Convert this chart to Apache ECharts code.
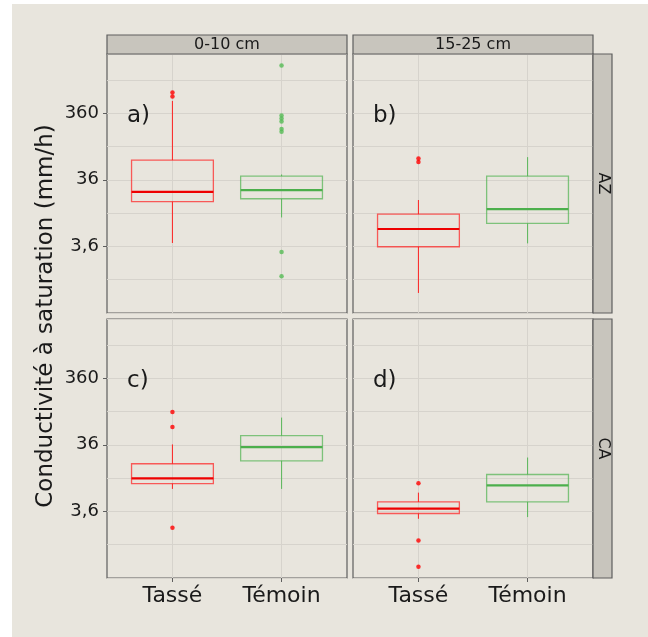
<!DOCTYPE html>
<html>
<head>
<meta charset="utf-8">
<script src="https://cdn.jsdelivr.net/npm/echarts@6/dist/echarts.min.js"></script>
<style>
html,body{margin:0;padding:0;background:#ffffff;}
#bg{position:absolute;left:12px;top:4px;width:636px;height:633px;background:#e8e5dd;}
#c{position:absolute;left:0;top:0;width:648px;height:637px;}
</style>
</head>
<body>
<div id="bg"></div>
<div id="c"></div>
<script>
// ---------- data ----------
const categories = ['Tassé', 'Témoin'];
const depths = ['0-10 cm', '15-25 cm'];
const sites = ['AZ', 'CA'];
const panelTags = ['a)', 'b)', 'c)', 'd)'];
const tickValues = [3.6, 36, 360];
const tickLabels = ['3,6', '36', '360'];
const yRange = [0.36, 2790];

// box statistics [lower whisker, Q1, median, Q3, upper whisker] (mm/h)
const az010Tasse  = [4.05, 16.9, 23.8, 71.3, 551];
const az010Temoin = [9.8, 18.7, 25.2, 41.0, 43.3];
const az1525Tasse  = [0.72, 3.56, 6.57, 11.0, 17.9];
const az1525Temoin = [4.0, 7.97, 13.1, 41.0, 78.9];
const ca010Tasse  = [7.84, 9.43, 11.3, 18.7, 36.5];
const ca010Temoin = [7.84, 20.7, 33.2, 49.4, 92.3];
const ca1525Tasse  = [2.79, 3.35, 3.95, 4.99, 6.89];
const ca1525Temoin = [2.96, 4.99, 8.88, 12.9, 23.2];

// outliers (mm/h)
const az010TasseOut  = [735, 640];
const az010TemoinOut = [1868, 334, 301, 271, 209, 189, 2.97, 1.28];
const az1525TasseOut  = [75.2, 66.4];
const az1525TemoinOut = [];
const ca010TasseOut  = [112, 66.6, 2.04];
const ca010TemoinOut = [];
const ca1525TasseOut  = [9.52, 1.32, 0.533];
const ca1525TemoinOut = [];

// ---------- helpers ----------
const FONT = "'DejaVu Sans', sans-serif";
const base = tickValues[0];
const tv = v => Math.log10(v / base);   // log scale in decades relative to first tick
const panels = [
  {box: [az010Tasse, az010Temoin],   out: [az010TasseOut, az010TemoinOut]},
  {box: [az1525Tasse, az1525Temoin], out: [az1525TasseOut, az1525TemoinOut]},
  {box: [ca010Tasse, ca010Temoin],   out: [ca010TasseOut, ca010TemoinOut]},
  {box: [ca1525Tasse, ca1525Temoin], out: [ca1525TasseOut, ca1525TemoinOut]}
];
const boxColors = ['rgba(255,30,30,0.7)', 'rgba(80,180,80,0.7)'];
const medColors = ['#ee0000', '#4caf4c'];
const whiskColors = ['rgba(255,20,20,0.85)', 'rgba(80,180,80,0.85)'];
const pointColors = ['#ff0000', '#55bb55'];

const gLeft = [107, 353], gTop = [54, 319], gW = 240, gH = 259;
const gridColor = '#d6d3cc', borderColor = '#5e5e5e', textColor = '#1a1a1a';

const grids = [], xAxes = [], yAxes = [], series = [];
const yMin = tv(yRange[0]), yMax = tv(yRange[1]);
const majorT = tickValues.map(tv);

for (let p = 0; p < 4; p++) {
  const row = Math.floor(p / 2), col = p % 2;
  grids.push({
    left: gLeft[col], top: gTop[row], width: gW, height: gH,
    containLabel: false, outerBoundsMode: 'none',
    show: true, backgroundColor: 'transparent',
    borderColor: borderColor, borderWidth: 1.2
  });
  const bottom = row === 1;
  xAxes.push({
    type: 'value', gridIndex: p, min: 0.4, max: 2.6, position: 'bottom',
    axisLine: {show: false, onZero: false},
    axisTick: {show: bottom, customValues: [1, 2], length: 4, lineStyle: {color: borderColor}},
    axisLabel: {show: bottom, customValues: [1, 2], margin: 7,
      formatter: v => categories[Math.round(v) - 1] || '',
      fontSize: 22, fontFamily: FONT, color: textColor},
    splitLine: {show: true, lineStyle: {color: gridColor, width: 1}}
  });
  yAxes.push({
    type: 'value', gridIndex: p, min: yMin, max: yMax, interval: 0.5,
    axisLine: {show: false, onZero: false}, axisTick: {show: false}, axisLabel: {show: false},
    splitLine: {show: true, lineStyle: {color: gridColor, width: 1}}
  });
}
// tick / label axes for the left column
[0, 2].forEach(p => {
  yAxes.push({
    type: 'value', gridIndex: p, position: 'left', min: yMin, max: yMax,
    axisLine: {show: false, onZero: false},
    axisTick: {show: true, customValues: majorT, length: 4, lineStyle: {color: borderColor}},
    axisLabel: {show: true, customValues: majorT, margin: 8,
      formatter: v => {
        for (let i = 0; i < majorT.length; i++) if (Math.abs(majorT[i] - v) < 1e-6) return tickLabels[i];
        return '';
      },
      fontSize: 18, fontFamily: FONT, color: textColor},
    splitLine: {show: false}
  });
});

function renderBox(params, api) {
  const x = api.value(0);
  const ci = api.value(6);
  const c = i => api.coord([x, api.value(i)]);
  const pMin = c(1), pQ1 = c(2), pMed = c(3), pQ3 = c(4), pMax = c(5);
  const w = api.size([0.75, 0])[0];
  const cx = pMed[0], left = cx - w / 2;
  return {
    type: 'group',
    children: [
      {type: 'line', shape: {x1: cx, y1: pQ3[1], x2: cx, y2: pMax[1]},
        style: {stroke: whiskColors[ci], lineWidth: 1.1}},
      {type: 'line', shape: {x1: cx, y1: pQ1[1], x2: cx, y2: pMin[1]},
        style: {stroke: whiskColors[ci], lineWidth: 1.1}},
      {type: 'rect', shape: {x: left, y: pQ3[1], width: w, height: pQ1[1] - pQ3[1]},
        style: {fill: 'none', stroke: boxColors[ci], lineWidth: 1.3}},
      {type: 'line', shape: {x1: left, y1: pMed[1], x2: left + w, y2: pMed[1]},
        style: {stroke: medColors[ci], lineWidth: 2.2}}
    ]
  };
}

panels.forEach((pn, p) => {
  series.push({
    type: 'custom', xAxisIndex: p, yAxisIndex: p,
    renderItem: renderBox, silent: true,
    encode: {x: 0, y: [1, 2, 3, 4, 5]},
    data: pn.box.map((b, k) => [k + 1].concat(b.map(tv)).concat([k]))
  });
  pn.out.forEach((arr, k) => {
    series.push({
      type: 'scatter', xAxisIndex: p, yAxisIndex: p, silent: true,
      symbol: 'circle', symbolSize: 4.5, z: 5,
      itemStyle: {color: pointColors[k]},
      data: arr.map(v => [k + 1, tv(v)])
    });
  });
});

// strips, panel tags, axis title
const graphics = [];
depths.forEach((d, col) => {
  graphics.push({type: 'rect', shape: {x: gLeft[col], y: 35, width: gW, height: 19},
    style: {fill: '#c8c5bd', stroke: borderColor, lineWidth: 1.2}, z: 10});
  graphics.push({type: 'text', x: gLeft[col] + gW / 2, y: 45, z: 11,
    style: {text: d, font: '16px ' + FONT, fill: textColor,
      align: 'center', verticalAlign: 'middle', textAlign: 'center', textVerticalAlign: 'middle'}});
});
sites.forEach((s, row) => {
  graphics.push({type: 'rect', shape: {x: 593, y: gTop[row], width: 19, height: gH},
    style: {fill: '#c8c5bd', stroke: borderColor, lineWidth: 1.2}, z: 10});
  graphics.push({type: 'text', x: 603, y: gTop[row] + gH / 2, rotation: -Math.PI / 2, z: 11,
    style: {text: s, font: '16px ' + FONT, fill: textColor,
      align: 'center', verticalAlign: 'middle', textAlign: 'center', textVerticalAlign: 'middle'}});
});
panelTags.forEach((t, p) => {
  const row = Math.floor(p / 2), col = p % 2;
  graphics.push({type: 'text', x: gLeft[col] + 20, y: gTop[row] + 62.5, z: 11,
    style: {text: t, font: '23px ' + FONT, fill: textColor,
      align: 'left', verticalAlign: 'middle', textAlign: 'left', textVerticalAlign: 'middle'}});
});
graphics.push({type: 'text', x: 46, y: 316, rotation: Math.PI / 2, z: 11,
  style: {text: 'Conductivité à saturation (mm/h)', font: '23px ' + FONT, fill: textColor,
    align: 'center', verticalAlign: 'middle', textAlign: 'center', textVerticalAlign: 'middle'}});

const chart = echarts.init(document.getElementById('c'), null, {renderer: 'canvas'});
chart.setOption({
  animation: false,
  backgroundColor: 'transparent',
  grid: grids,
  xAxis: xAxes,
  yAxis: yAxes,
  series: series,
  graphic: {elements: graphics}
});
</script>
</body>
</html>
